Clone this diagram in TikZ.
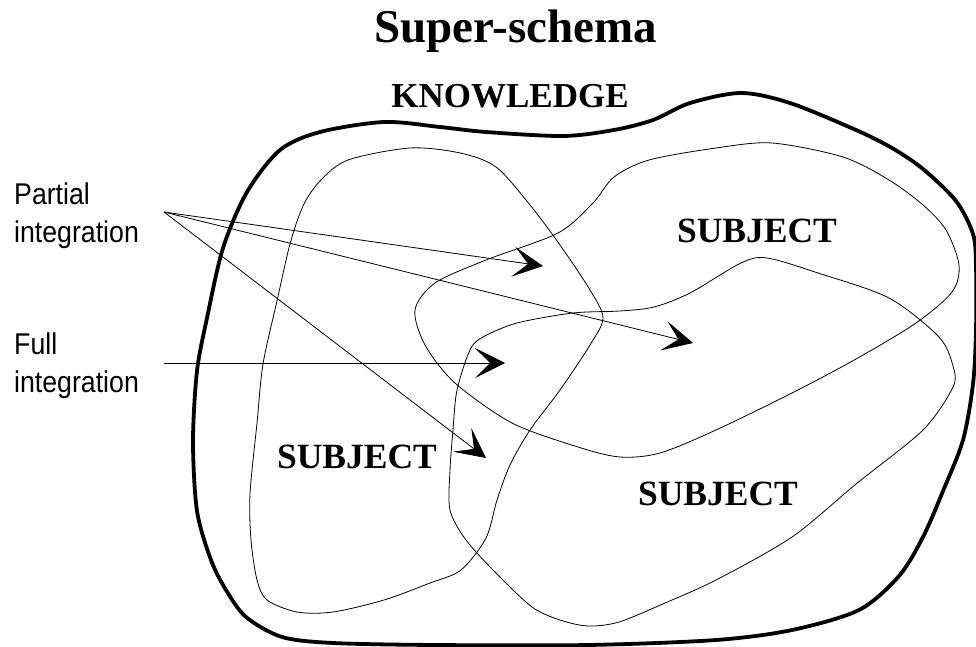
\documentclass[tikz,border=0pt]{standalone}
\usepackage{fontspec}
\setmainfont{Liberation Serif}
\newfontfamily\labelfont[FakeStretch=0.89]{Liberation Sans}
\usepackage{tikz}
\usetikzlibrary{arrows.meta,positioning}

\begin{document}
\begin{tikzpicture}[x=1pt,y=-1pt,>={Stealth[length=30pt,width=30pt,inset=15pt]},
    blob/.style={line width=0.8pt},
    border/.style={line width=3.8pt},
    caps/.style={font=\bfseries\fontsize{35.5}{40}\selectfont,inner sep=0pt,anchor=base},
    lbl/.style={font=\labelfont\fontsize{30}{38}\selectfont,align=left,inner sep=0pt,anchor=base west}]
        \useasboundingbox (0,0) rectangle (976,647);
        % outer region
        \draw[border] plot[smooth cycle] coordinates {(384,122) (440,127) (486,132) (563,136) (614,130)
            (653,120) (690,103) (741,93) (790,103) (856,130) (892,148) (923,169) (956,201) (973,234)
            (976,266) (976,330) (973,384) (963,440) (943,491) (923,537) (899,576) (859,610) (792,630)
            (716,640) (588,645) (435,645) (333,643) (282,637) (246,617) (226,590) (211,560) (197,511)
            (193,441) (197,371) (207,318) (223,248) (247,192) (280,150) (320,132)};
        % left subject
        \draw[blob] plot[smooth cycle] coordinates {(410,148) (460,153) (496,167) (530,205) (560,245)
            (590,290) (603,318) (590,345) (560,390) (530,430) (510,465) (497,500) (486,538) (461,570)
            (430,583) (384,600) (333,612) (297,612) (267,600) (257,580) (251,540) (250,494) (257,423)
            (263,364) (277,301) (290,244) (303,206) (320,181) (348,160)};
        % upper right subject
        \draw[blob] plot[smooth cycle] coordinates {(649,160) (716,148) (772,143) (843,157) (889,180)
            (923,205) (946,230) (959,265) (952,292) (916,323) (856,359) (792,393) (716,430) (660,453)
            (620,457) (578,447) (512,423) (455,383) (425,345) (415,310) (435,283) (486,260) (558,233)
            (593,203) (614,177)};
        % lower right subject
        \draw[blob] plot[smooth cycle] coordinates {(741,263) (767,258) (818,273) (889,298) (939,337)
            (953,366) (953,387) (923,430) (856,484) (792,537) (716,580) (665,603) (619,622) (588,626)
            (560,620) (532,607) (496,573) (466,540) (450,510) (450,470) (453,430) (457,390) (470,350)
            (483,337) (517,323) (573,313) (620,311) (654,307) (690,293)};

        \path
        % headings
        (516,43)  node[caps,font=\bfseries\fontsize{47}{52}\selectfont] (title) {Super-schema}
        (510,108) node[caps,font=\bfseries\fontsize{35}{40}\selectfont] (knowledge) {KNOWLEDGE}
        % subjects
        (757,242) node[caps] (subjtop) {SUBJECT}
        (357,468) node[caps] (subjleft) {SUBJECT}
        (718,505) node[caps] (subjlow) {SUBJECT}
        % side labels (base = last line)
        (14,242) node[lbl] (partial) {Partial\\integration}
        (14,392) node[lbl] (full) {Full\\integration};

        \coordinate (pstart) at (164,212);
        \coordinate (fstart) at (164,363);
        \coordinate (tipa) at (543,266);
        \coordinate (tipb) at (693,343);
        \coordinate (tipc) at (486,458);
        \coordinate (tipd) at (505,363);

        \draw[->,blob] (pstart)--(tipa);
        \draw[->,blob] (pstart)--(tipb);
        \draw[->,blob] (pstart)--(tipc);
        \draw[->,blob] (fstart)--(tipd);
    \end{tikzpicture}
\end{document}
